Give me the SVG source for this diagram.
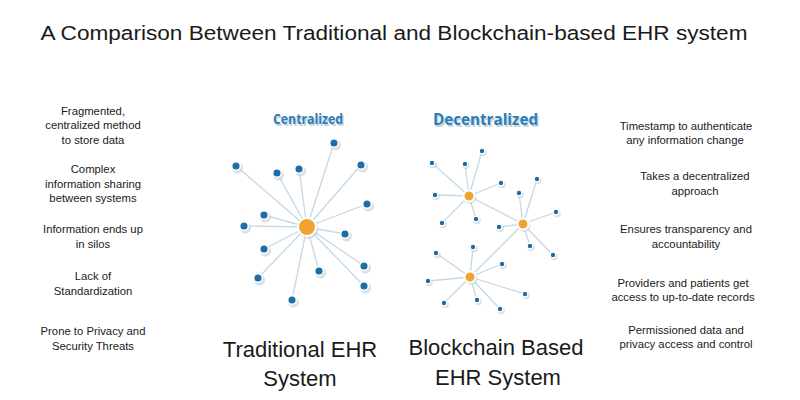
<svg xmlns="http://www.w3.org/2000/svg" width="800" height="400" viewBox="0 0 800 400">
<defs>
<style>
.t{font-family:"Liberation Sans","Open Sans",Arial,sans-serif;fill:#1a1a1a;text-anchor:middle}
.title{font-size:20px}
.s{font-size:11.3px}
.big{font-size:22px}
.lbl{font-family:"Open Sans","Liberation Sans",Arial,sans-serif;font-weight:bold;fill:#2a7db8;text-anchor:middle}
.lblsh{font-family:"Open Sans","Liberation Sans",Arial,sans-serif;font-weight:bold;fill:#c9d3da;text-anchor:middle}
.ln{stroke:#c4d8e6;stroke-width:1.3;fill:none}
.b{fill:#1b6fa6;stroke:#ffffff;stroke-width:1.5}
.bs{fill:#1b6fa6;stroke:#ffffff;stroke-width:1.2}
.o{fill:#f0a232;stroke:#ffffff;stroke-width:2}
.sh{fill:#c8ced3;opacity:0.6}
</style>
</defs>
<rect width="800" height="400" fill="#ffffff"/>
<text class="t title" x="394" y="40" textLength="707" lengthAdjust="spacingAndGlyphs">A Comparison Between Traditional and Blockchain-based EHR system</text>

<g id="left-notes" class="t s">
<text x="93" y="115">Fragmented,</text>
<text x="93" y="129">centralized method</text>
<text x="93" y="144">to store data</text>
<text x="93" y="173">Complex</text>
<text x="93" y="188">information sharing</text>
<text x="93" y="202">between systems</text>
<text x="93" y="233">Information ends up</text>
<text x="93" y="248">in silos</text>
<text x="93" y="280">Lack of</text>
<text x="93" y="295">Standardization</text>
<text x="93" y="335">Prone to Privacy and</text>
<text x="93" y="350">Security Threats</text>
</g>

<g id="right-notes" class="t s">
<text x="686" y="130">Timestamp to authenticate</text>
<text x="685" y="144">any information change</text>
<text x="695" y="180">Takes a decentralized</text>
<text x="695" y="195">approach</text>
<text x="686" y="233">Ensures transparency and</text>
<text x="686" y="248">accountability</text>
<text x="683" y="287">Providers and patients get</text>
<text x="683" y="301">access to up-to-date records</text>
<text x="686" y="334">Permissioned data and</text>
<text x="686" y="348">privacy access and control</text>
</g>

<g id="centralized-label">
<text class="lblsh" x="309.5" y="125.5" font-size="13.5" textLength="70" lengthAdjust="spacingAndGlyphs">Centralized</text>
<text class="lbl" x="308" y="124" font-size="13.5" textLength="70" lengthAdjust="spacingAndGlyphs">Centralized</text>
</g>
<g id="decentralized-label">
<text class="lblsh" x="487" y="126.5" font-size="16" textLength="105" lengthAdjust="spacingAndGlyphs">Decentralized</text>
<text class="lbl" x="485.5" y="125" font-size="16" textLength="105" lengthAdjust="spacingAndGlyphs">Decentralized</text>
</g>

<g id="connectors">
<g class="ln">
<line x1="307" y1="227" x2="334" y2="143"/>
<line x1="307" y1="227" x2="236" y2="166"/>
<line x1="307" y1="227" x2="277" y2="173"/>
<line x1="307" y1="227" x2="299" y2="169"/>
<line x1="307" y1="227" x2="361" y2="165"/>
<line x1="307" y1="227" x2="367" y2="204"/>
<line x1="307" y1="227" x2="264" y2="215"/>
<line x1="307" y1="227" x2="244" y2="226"/>
<line x1="307" y1="227" x2="345" y2="234"/>
<line x1="307" y1="227" x2="264" y2="249"/>
<line x1="307" y1="227" x2="364" y2="266"/>
<line x1="307" y1="227" x2="319" y2="271"/>
<line x1="307" y1="227" x2="258" y2="278"/>
<line x1="307" y1="227" x2="364" y2="286"/>
<line x1="307" y1="227" x2="292" y2="300"/>
</g>
<g class="ln" stroke-width="1">
<line x1="469" y1="196" x2="432" y2="163"/>
<line x1="469" y1="196" x2="465" y2="164"/>
<line x1="469" y1="196" x2="482" y2="151"/>
<line x1="469" y1="196" x2="501" y2="183"/>
<line x1="469" y1="196" x2="435" y2="195"/>
<line x1="469" y1="196" x2="442" y2="223"/>
<line x1="469" y1="196" x2="476" y2="219"/>
<line x1="469" y1="196" x2="523" y2="224"/>
<line x1="523" y1="224" x2="537" y2="179"/>
<line x1="523" y1="224" x2="519" y2="193"/>
<line x1="523" y1="224" x2="556" y2="212"/>
<line x1="523" y1="224" x2="499" y2="227"/>
<line x1="523" y1="224" x2="530" y2="246"/>
<line x1="523" y1="224" x2="553" y2="255"/>
<line x1="523" y1="224" x2="470" y2="277"/>
<line x1="470" y1="277" x2="473" y2="247"/>
<line x1="470" y1="277" x2="436" y2="253"/>
<line x1="470" y1="277" x2="502" y2="264"/>
<line x1="470" y1="277" x2="428" y2="281"/>
<line x1="470" y1="277" x2="525" y2="294"/>
<line x1="470" y1="277" x2="444" y2="303"/>
<line x1="470" y1="277" x2="477" y2="300"/>
<line x1="470" y1="277" x2="500" y2="309"/>
</g>
</g>

<g id="centralized-hub">
<circle class="sh" cx="308.5" cy="229" r="10"/>
<circle class="o" cx="307" cy="227" r="9"/>
</g>
<g id="centralized-nodes">
<g class="sh">
<circle cx="335.5" cy="145" r="5.5"/><circle cx="237.5" cy="168" r="5.5"/><circle cx="278.5" cy="175" r="5.5"/>
<circle cx="300.5" cy="171" r="5.5"/><circle cx="362.5" cy="167" r="5.5"/><circle cx="368.5" cy="206" r="5.5"/>
<circle cx="265.5" cy="217" r="5.5"/><circle cx="245.5" cy="228" r="5.5"/><circle cx="346.5" cy="236" r="5.5"/>
<circle cx="265.5" cy="251" r="5.5"/><circle cx="365.5" cy="268" r="5.5"/><circle cx="320.5" cy="273" r="5.5"/>
<circle cx="259.5" cy="280" r="5.5"/><circle cx="365.5" cy="288" r="5.5"/><circle cx="293.5" cy="302" r="5.5"/>
</g>
<g class="b">
<circle cx="334" cy="143" r="4.3"/><circle cx="236" cy="166" r="4.3"/><circle cx="277" cy="173" r="4.3"/>
<circle cx="299" cy="169" r="4.3"/><circle cx="361" cy="165" r="4.3"/><circle cx="367" cy="204" r="4.3"/>
<circle cx="264" cy="215" r="4.3"/><circle cx="244" cy="226" r="4.3"/><circle cx="345" cy="234" r="4.3"/>
<circle cx="264" cy="249" r="4.3"/><circle cx="364" cy="266" r="4.3"/><circle cx="319" cy="271" r="4.3"/>
<circle cx="258" cy="278" r="4.3"/><circle cx="364" cy="286" r="4.3"/><circle cx="292" cy="300" r="4.3"/>
</g>
</g>

<g id="decentralized-hubs">
<g class="sh"><circle cx="470" cy="197.5" r="6.5"/><circle cx="524" cy="225.5" r="6.5"/><circle cx="471" cy="278.5" r="6.5"/></g>
<circle class="o" cx="469" cy="196" r="5.5"/>
<circle class="o" cx="523" cy="224" r="5.5"/>
<circle class="o" cx="470" cy="277" r="5.5"/>
</g>
<g id="decentralized-nodes">
<g class="sh">
<circle cx="433" cy="164.5" r="3.8"/><circle cx="466" cy="165.5" r="3.8"/><circle cx="483" cy="152.5" r="3.8"/>
<circle cx="502" cy="184.5" r="3.8"/><circle cx="436" cy="196.5" r="3.8"/><circle cx="443" cy="224.5" r="3.8"/>
<circle cx="477" cy="220.5" r="3.8"/><circle cx="538" cy="180.5" r="3.8"/><circle cx="520" cy="194.5" r="3.8"/>
<circle cx="557" cy="213.5" r="3.8"/><circle cx="500" cy="228.5" r="3.8"/><circle cx="531" cy="247.5" r="3.8"/>
<circle cx="554" cy="256.5" r="3.8"/><circle cx="474" cy="248.5" r="3.8"/><circle cx="437" cy="254.5" r="3.8"/>
<circle cx="503" cy="265.5" r="3.8"/><circle cx="429" cy="282.5" r="3.8"/><circle cx="526" cy="295.5" r="3.8"/>
<circle cx="445" cy="304.5" r="3.8"/><circle cx="478" cy="301.5" r="3.8"/><circle cx="501" cy="310.5" r="3.8"/>
</g>
<g class="bs">
<circle cx="432" cy="163" r="2.8"/><circle cx="465" cy="164" r="2.8"/><circle cx="482" cy="151" r="2.8"/>
<circle cx="501" cy="183" r="2.8"/><circle cx="435" cy="195" r="2.8"/><circle cx="442" cy="223" r="2.8"/>
<circle cx="476" cy="219" r="2.8"/><circle cx="537" cy="179" r="2.8"/><circle cx="519" cy="193" r="2.8"/>
<circle cx="556" cy="212" r="2.8"/><circle cx="499" cy="227" r="2.8"/><circle cx="530" cy="246" r="2.8"/>
<circle cx="553" cy="255" r="2.8"/><circle cx="473" cy="247" r="2.8"/><circle cx="436" cy="253" r="2.8"/>
<circle cx="502" cy="264" r="2.8"/><circle cx="428" cy="281" r="2.8"/><circle cx="525" cy="294" r="2.8"/>
<circle cx="444" cy="303" r="2.8"/><circle cx="477" cy="300" r="2.8"/><circle cx="500" cy="309" r="2.8"/>
</g>
</g>

<g id="traditional-caption" class="t big">
<text x="300" y="357">Traditional EHR</text>
<text x="300" y="386">System</text>
</g>
<g id="blockchain-caption" class="t big">
<text x="496" y="355">Blockchain Based</text>
<text x="498" y="385">EHR System</text>
</g>
</svg>
